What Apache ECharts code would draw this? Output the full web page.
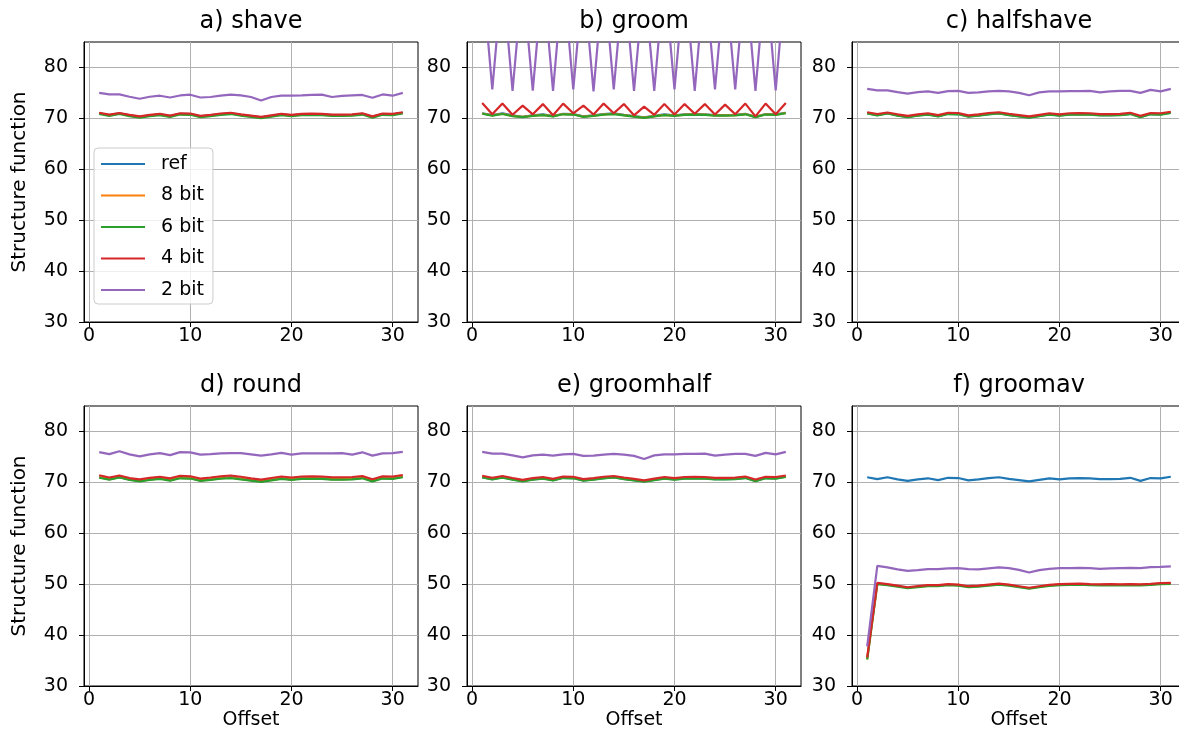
<!DOCTYPE html>
<html><head><meta charset="utf-8">
<script src="https://cdn.jsdelivr.net/npm/echarts@6/dist/echarts.min.js"></script>
<style>html,body{margin:0;padding:0;background:#fff}#c{width:1179px;height:747px}</style>
</head><body><div id="c"></div>
<script>
const offsets = [1,2,3,4,5,6,7,8,9,10,11,12,13,14,15,16,17,18,19,20,21,22,23,24,25,26,27,28,29,30,31];
const seriesNames = ['ref','8 bit','6 bit','4 bit','2 bit'];
const panelTitles = ['a) shave','b) groom','c) halfshave','d) round','e) groomhalf','f) groomav'];
const yTicks = [30,40,50,60,70,80];
const xTicks = [0,10,20,30];

const ref = [71.0,70.65,71.0,70.6,70.3,70.6,70.8,70.45,70.9,70.85,70.4,70.6,70.85,71.0,70.7,70.45,70.2,70.5,70.8,70.6,70.8,70.85,70.8,70.65,70.65,70.7,70.9,70.3,70.85,70.8,71.1];

const shave8 = [70.95,70.6,70.95,70.55,70.25,70.55,70.75,70.4,70.85,70.8,70.35,70.55,70.8,70.95,70.65,70.4,70.15,70.45,70.75,70.55,70.75,70.8,70.75,70.6,70.6,70.65,70.85,70.25,70.8,70.75,71.05];
const shave6 = [70.85,70.5,70.85,70.45,70.15,70.45,70.65,70.3,70.75,70.7,70.25,70.45,70.7,70.85,70.55,70.3,70.05,70.35,70.65,70.45,70.65,70.7,70.65,70.5,70.5,70.55,70.75,70.15,70.7,70.65,70.95];
const shave4 = [71.1,70.75,71.05,70.7,70.4,70.7,70.9,70.55,71.0,70.95,70.5,70.7,70.95,71.1,70.8,70.55,70.3,70.6,70.9,70.7,70.9,70.95,70.9,70.75,70.75,70.8,71.0,70.4,70.95,70.9,71.2];
const shave2 = [75.0,74.7,74.7,74.25,73.85,74.25,74.45,74.1,74.5,74.65,74.1,74.2,74.45,74.65,74.5,74.2,73.5,74.2,74.45,74.45,74.5,74.6,74.65,74.2,74.4,74.5,74.6,74.05,74.7,74.45,75.0];

const groom8 = [70.95,70.6,70.9,70.5,70.3,70.55,70.7,70.45,70.85,70.8,70.35,70.55,70.8,70.9,70.65,70.4,70.15,70.45,70.7,70.55,70.75,70.8,70.75,70.6,70.6,70.65,70.85,70.3,70.8,70.75,71.05];
const groom6 = [70.9,70.55,70.85,70.45,70.25,70.5,70.65,70.4,70.8,70.75,70.3,70.5,70.75,70.85,70.6,70.35,70.1,70.4,70.65,70.5,70.7,70.75,70.7,70.55,70.55,70.6,70.8,70.25,70.75,70.7,71.0];
const groom4 = [73.0,70.8,72.9,70.7,72.5,70.8,72.8,70.6,72.9,71.0,72.5,70.75,72.9,71.0,72.8,70.6,72.3,70.7,72.8,70.75,72.8,70.9,72.8,70.75,72.7,70.8,72.9,70.4,72.9,70.8,73.0];
const groom2 = [98.5,75.7,98.2,75.4,97.6,75.45,98.0,75.4,98.3,75.7,97.8,75.3,98.2,75.7,98.0,75.4,97.4,75.4,98.0,75.7,98.1,75.4,98.1,75.7,98.0,75.7,98.2,75.4,98.3,75.5,98.6];

const halfshave8 = [71.05,70.7,71.05,70.65,70.35,70.65,70.85,70.5,70.95,70.9,70.45,70.65,70.9,71.05,70.75,70.5,70.25,70.55,70.85,70.65,70.85,70.9,70.85,70.7,70.7,70.75,70.95,70.35,70.9,70.85,71.15];
const halfshave6 = [70.95,70.6,70.95,70.55,70.25,70.55,70.75,70.4,70.85,70.8,70.35,70.55,70.8,70.95,70.65,70.4,70.15,70.45,70.75,70.55,70.75,70.8,70.75,70.6,70.6,70.65,70.85,70.25,70.8,70.75,71.05];
const halfshave4 = [71.2,70.85,71.15,70.8,70.5,70.8,71.0,70.65,71.1,71.05,70.6,70.8,71.05,71.2,70.9,70.65,70.4,70.7,71.0,70.8,71.0,71.05,71.0,70.85,70.85,70.9,71.1,70.5,71.05,71.0,71.3];
const halfshave2 = [75.8,75.5,75.5,75.15,74.85,75.15,75.3,75.0,75.35,75.4,75.0,75.1,75.3,75.4,75.3,75.0,74.55,75.1,75.3,75.3,75.35,75.35,75.4,75.1,75.3,75.4,75.4,75.0,75.6,75.3,75.8];

const round8 = [71.0,70.65,71.05,70.6,70.3,70.6,70.8,70.45,70.9,70.85,70.4,70.6,70.85,70.95,70.7,70.45,70.2,70.5,70.8,70.6,70.8,70.85,70.8,70.65,70.65,70.7,70.9,70.3,70.85,70.8,71.1];
const round6 = [70.9,70.55,70.95,70.5,70.2,70.5,70.7,70.35,70.8,70.75,70.3,70.5,70.75,70.85,70.6,70.35,70.1,70.4,70.7,70.5,70.7,70.75,70.7,70.55,70.55,70.6,70.8,70.2,70.75,70.7,71.0];
const round4 = [71.4,70.95,71.35,70.85,70.6,70.9,71.1,70.8,71.3,71.2,70.75,70.95,71.2,71.35,71.1,70.8,70.55,70.85,71.15,70.95,71.15,71.2,71.15,71.0,71.0,71.05,71.25,70.6,71.2,71.15,71.45];
const round2 = [75.95,75.55,76.1,75.5,75.1,75.5,75.75,75.35,75.95,75.9,75.45,75.55,75.7,75.75,75.75,75.5,75.25,75.5,75.8,75.45,75.7,75.7,75.7,75.7,75.75,75.45,75.9,75.25,75.7,75.75,76.0];

const groomhalf8 = [71.05,70.7,71.0,70.65,70.3,70.65,70.85,70.5,70.95,70.9,70.45,70.65,70.9,71.05,70.75,70.5,70.25,70.55,70.85,70.65,70.85,70.9,70.85,70.7,70.7,70.75,70.95,70.35,70.9,70.85,71.15];
const groomhalf6 = [70.95,70.6,70.9,70.55,70.2,70.55,70.75,70.4,70.85,70.8,70.35,70.55,70.8,70.95,70.65,70.4,70.15,70.45,70.75,70.55,70.75,70.8,70.75,70.6,70.6,70.65,70.85,70.25,70.8,70.75,71.05];
const groomhalf4 = [71.3,70.9,71.25,70.85,70.5,70.85,71.05,70.7,71.15,71.1,70.65,70.85,71.1,71.25,70.95,70.7,70.4,70.75,71.05,70.85,71.05,71.1,71.05,70.9,70.9,70.95,71.15,70.55,71.1,71.05,71.35];
const groomhalf2 = [76.0,75.65,75.65,75.3,74.9,75.3,75.45,75.25,75.5,75.6,75.2,75.25,75.45,75.6,75.45,75.2,74.6,75.3,75.5,75.5,75.6,75.6,75.65,75.25,75.45,75.6,75.6,75.2,75.8,75.5,76.0];

const groomav8 = [35.3,50.1,49.9,49.6,49.3,49.5,49.7,49.7,49.9,49.8,49.5,49.6,49.8,50.0,49.8,49.5,49.2,49.5,49.75,49.9,49.95,50.0,49.9,49.85,49.9,49.85,49.9,49.85,49.95,50.1,50.15];
const groomav6 = [35.2,50.0,49.8,49.5,49.2,49.4,49.6,49.6,49.8,49.7,49.4,49.5,49.7,49.9,49.7,49.4,49.1,49.4,49.65,49.8,49.85,49.9,49.8,49.75,49.8,49.75,49.8,49.75,49.85,50.0,50.05];
const groomav4 = [35.6,50.25,50.0,49.7,49.4,49.6,49.8,49.8,50.0,49.9,49.6,49.7,49.9,50.1,49.9,49.6,49.3,49.6,49.85,50.0,50.05,50.1,50.0,49.95,50.0,49.95,50.0,49.95,50.05,50.2,50.25];
const groomav2 = [37.8,53.6,53.3,52.9,52.6,52.75,52.95,52.95,53.1,53.15,52.95,52.9,53.1,53.3,53.15,52.8,52.3,52.75,53.0,53.15,53.15,53.2,53.15,53.0,53.1,53.15,53.2,53.15,53.35,53.4,53.5];

const panelData = [
  [ref, shave8, shave6, shave4, shave2],
  [ref, groom8, groom6, groom4, groom2],
  [ref, halfshave8, halfshave6, halfshave4, halfshave2],
  [ref, round8, round6, round4, round2],
  [ref, groomhalf8, groomhalf6, groomhalf4, groomhalf2],
  [ref, groomav8, groomav6, groomav4, groomav2]
];

const colors = ['#1f77b4','#ff7f0e','#2ca02c','#d62728','#9467bd'];
const FONT = 'DejaVu Sans';
const lefts = [84, 467, 852], tops = [42, 406], W = 334, H = 280;

const grids = [], xAxes = [], yAxes = [], series = [], graphics = [];
for (let i = 0; i < 6; i++) {
  const col = i % 3, row = Math.floor(i / 3);
  grids.push({left: lefts[col], top: tops[row], width: W, height: H, show: true,
    outerBoundsMode: 'none', containLabel: false,
    borderColor: '#000', borderWidth: 1, backgroundColor: 'transparent'});
  xAxes.push({
    gridIndex: i, type: 'value', min: -0.5, max: 32.5, splitNumber: 3,
    name: row === 1 ? 'Offset' : '', nameLocation: 'middle', nameGap: 18,
    nameTextStyle: {fontFamily: FONT, fontSize: 19, color: '#000'},
    axisLine: {show: true, onZero: false, lineStyle: {color: '#000', width: 1}},
    axisTick: {show: true, length: 5, customValues: xTicks, lineStyle: {color: '#000', width: 1}},
    axisLabel: {customValues: xTicks, fontFamily: FONT, fontSize: 19, color: '#000', margin: 5},
    splitLine: {show: true, lineStyle: {color: '#b0b0b0', width: 1}}
  });
  yAxes.push({
    gridIndex: i, type: 'value', min: 30, max: 85,
    name: col === 0 ? 'Structure function' : '', nameLocation: 'middle', nameGap: 54, nameRotate: 90,
    nameTextStyle: {fontFamily: FONT, fontSize: 20, color: '#000'},
    axisLine: {show: true, onZero: false, lineStyle: {color: '#000', width: 1}},
    axisTick: {show: true, length: 5, customValues: yTicks, lineStyle: {color: '#000', width: 1}},
    axisLabel: {customValues: yTicks, fontFamily: FONT, fontSize: 19, color: '#000', margin: 16},
    splitLine: {show: true, lineStyle: {color: '#b0b0b0', width: 1}}
  });
  panelData[i].forEach((arr, k) => {
    series.push({
      name: seriesNames[k], type: 'line', xAxisIndex: i, yAxisIndex: i,
      data: offsets.map((o, j) => [o, arr[j]]),
      symbol: 'none', clip: true, color: colors[k],
      lineStyle: {color: colors[k], width: 2.2}, z: 2 + k
    });
  });
  graphics.push({type: 'text', x: lefts[col] + W / 2, y: tops[row] - 20,
    style: {text: panelTitles[i], font: '24px "DejaVu Sans"', fill: '#000', textAlign: 'center', textVerticalAlign: 'middle'}});
}

const chart = echarts.init(document.getElementById('c'));
chart.setOption({
  animation: false,
  backgroundColor: '#fff',
  grid: grids, xAxis: xAxes, yAxis: yAxes, series: series,
  graphic: graphics,
  legend: {
    show: true, orient: 'vertical', left: 94, top: 148,
    data: seriesNames.map(n => ({name: n, icon: 'rect'})),
    itemWidth: 44, itemHeight: 2, itemGap: 11.5,
    padding: [6, 9, 4, 7],
    backgroundColor: 'rgba(255,255,255,0.8)', borderColor: '#cccccc', borderWidth: 1, borderRadius: 4,
    textStyle: {fontFamily: FONT, fontSize: 19, color: '#000', lineHeight: 20, padding: [0, 0, 0, 11]}
  }
});
</script></body></html>
